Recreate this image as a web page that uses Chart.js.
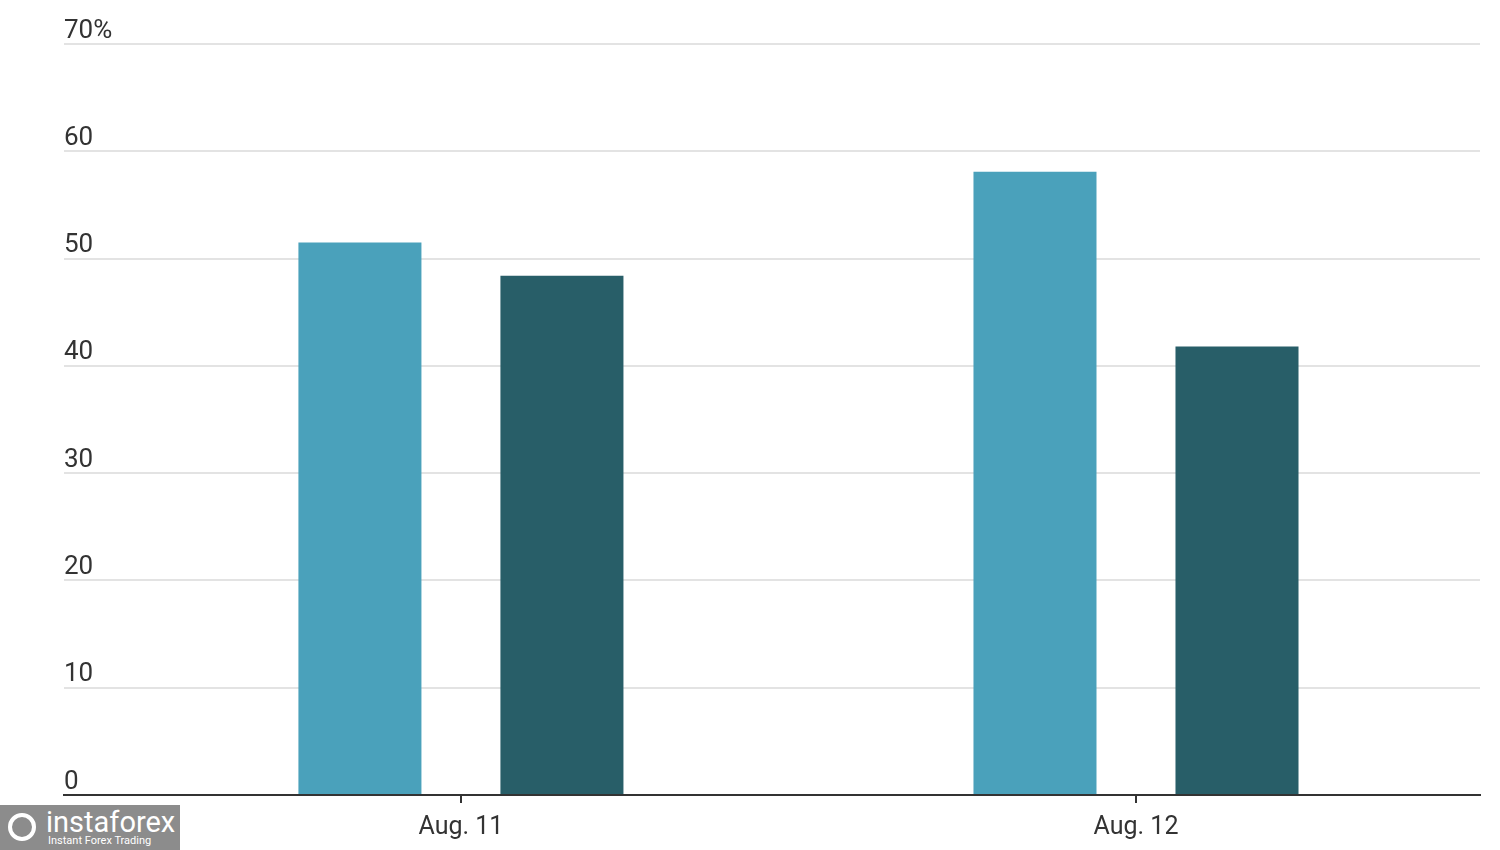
<!DOCTYPE html>
<html>
<head>
<meta charset="utf-8">
<script src="https://cdn.jsdelivr.net/npm/chart.js@4.4.1/dist/chart.umd.min.js"></script>
<style>
  html, body { margin: 0; padding: 0; background: #fff; }
  #wrap { position: relative; width: 1500px; height: 850px; }
  #badge {
    position: absolute; left: 0; top: 805px; width: 180px; height: 45px;
    background: #8c8c8c; color: #fff; font-family: Roboto, sans-serif;
  }
  #badge .big { position: absolute; left: 46px; top: 1px; font-size: 29px; line-height: 32px; }
  #badge .small { position: absolute; left: 48px; top: 30px; font-size: 11px; line-height: 12px; }
  #badge .gear {
    position: absolute; left: 8px; top: 8px; width: 28px; height: 28px;
    border: 4px solid #fff; border-radius: 50%; box-sizing: border-box;
  }
</style>
</head>
<body>
<div id="wrap">
  <canvas id="chart" width="1500" height="850"></canvas>
  <div id="badge"><div class="gear"></div><div class="big">instaforex</div><div class="small">Instant Forex Trading</div></div>
</div>
<script>
// categories and values
const xLabels = ["Aug. 11", "Aug. 12"];
const lightSeries = [51.5, 58.1];
const darkSeries = [48.4, 41.8];
const yTicks = [0, 10, 20, 30, 40, 50, 60, 70];

function toPoints(arr) {
    return arr.map((v, i) => ({ x: i, y: v }));
}

const ctx = document.getElementById("chart").getContext("2d");
new Chart(ctx, {
    type: "bar",
    data: {
        datasets: [{
            data: toPoints(lightSeries),
            backgroundColor: "#4aa1bb",
            categoryPercentage: 0.5985,
            barPercentage: 0.609
        }, {
            data: toPoints(darkSeries),
            backgroundColor: "#285e68",
            categoryPercentage: 0.5985,
            barPercentage: 0.609
        }]
    },
    options: {
        responsive: false,
        animation: false,
        layout: { padding: { top: 44, right: 20, bottom: -3, left: 64 } },
        plugins: { legend: { display: false }, tooltip: { enabled: false } },
        scales: {
            x: {
                type: "linear",
                min: -0.588,
                max: 1.5096,
                offset: false,
                afterBuildTicks: axis => {
                    axis.ticks = xLabels.map((l, i) => ({ value: i }));
                },
                grid: { offset: false, drawOnChartArea: false, drawTicks: true, tickLength: 8, color: "#333", lineWidth: 2 },
                border: { display: true, color: "#333", width: 2 },
                ticks: {
                    padding: 10,
                    color: "#333",
                    font: { family: "Roboto", size: 25 },
                    callback: v => xLabels[v]
                }
            },
            y: {
                min: 0,
                max: 70,
                afterBuildTicks: axis => {
                    axis.ticks = yTicks.map(v => ({ value: v }));
                },
                grid: { drawTicks: false, color: "#e3e3e3", lineWidth: 2 },
                border: { display: false },
                ticks: {
                    mirror: true,
                    padding: 0,
                    labelOffset: -13,
                    color: "#333",
                    font: { family: "Roboto", size: 26 },
                    callback: v => v === 70 ? "70%" : String(v)
                }
            }
        }
    }
});
</script>
</body>
</html>
